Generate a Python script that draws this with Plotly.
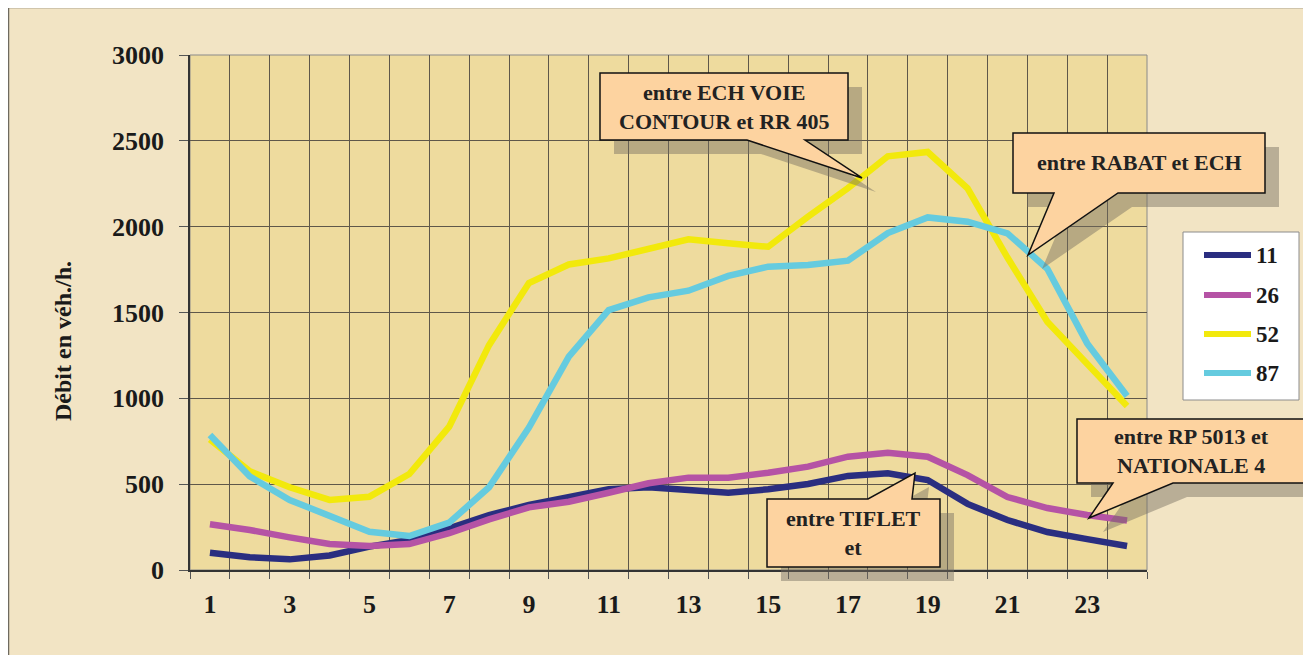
import plotly.graph_objects as go

hours = list(range(1, 25))
tick_hours = [1, 3, 5, 7, 9, 11, 13, 15, 17, 19, 21, 23]
series_names = ["11", "26", "52", "87"]
s11 = [101, 74, 62, 85, 136, 175, 243, 320, 379, 427, 470, 482, 462, 450, 470, 501, 548, 563, 524, 385, 291, 221, 180, 140]
s26 = [266, 233, 190, 151, 140, 151, 214, 295, 365, 398, 450, 505, 538, 538, 567, 602, 660, 683, 660, 553, 425, 361, 320, 288]
s52 = [761, 575, 482, 408, 427, 559, 835, 1310, 1672, 1780, 1815, 1868, 1926, 1903, 1883, 2058, 2225, 2410, 2435, 2223, 1820, 1446, 1204, 955]
s87 = [786, 545, 408, 311, 223, 198, 276, 482, 830, 1243, 1514, 1588, 1627, 1713, 1767, 1777, 1802, 1963, 2054, 2029, 1961, 1755, 1320, 1014]
series_values = [s11, s26, s52, s87]
colors = ["#2A2E80", "#B553A5", "#F2E90C", "#65CBDF"]
y_title = "Débit en véh./h."
callout_texts = [
    "entre ECH VOIE<br>CONTOUR et RR 405",
    "entre RABAT et ECH",
    "entre TIFLET<br>et",
    "entre RP 5013 et<br>NATIONALE 4",
]

OFF = 8  # page body margin
W, H = 1311, 655
L, R, T, B = 190, 1147, 55, 570  # plot area in screen pixels
FONT = "Liberation Serif, Times New Roman, serif"


def px(x):
    return (x - L) / (R - L)


def py(y):
    return (B - y) / (B - T)


def path(points):
    return "M" + " L".join(f"{px(x):.5f},{py(y):.5f}" for x, y in points) + " Z"


fig = go.Figure()
for name, vals, col in zip(series_names, series_values, colors):
    fig.add_trace(go.Scatter(x=hours, y=vals, mode="lines", name=name,
                             line=dict(color=col, width=6.5), showlegend=False))

shapes = []
annotations = []

# outer frame (left & top edges visible)
shapes.append(dict(type="rect", xref="paper", yref="paper", x0=px(8.5), x1=px(1340), y0=py(7.5), y1=py(700),
                   line=dict(color="#6E6A60", width=1.5), fillcolor="rgba(0,0,0,0)", layer="below"))
# plot border
shapes.append(dict(type="rect", xref="paper", yref="paper", x0=0, x1=1, y0=0, y1=1,
                   line=dict(color="#8A8A8A", width=1), fillcolor="rgba(0,0,0,0)", layer="below"))

callouts = [
    dict(pts=[(600, 73), (848, 73), (848, 140), (805, 140), (862, 178), (747, 140), (600, 140)],
         c=(724, 107)),
    dict(pts=[(1013, 133), (1265, 133), (1265, 193), (1118, 193), (1028, 255), (1054, 193), (1013, 193)],
         c=(1139, 163)),
    dict(pts=[(767, 499), (868, 499), (915, 473), (912, 499), (940, 499), (940, 567), (767, 567)],
         c=(853, 533)),
    dict(pts=[(1077, 419), (1305, 419), (1305, 483), (1173, 483), (1089, 518), (1113, 483), (1077, 483)],
         c=(1191, 451)),
]
for co in callouts:
    sh = [(x + 14, y + 14) for x, y in co["pts"]]
    shapes.append(dict(type="path", xref="paper", yref="paper", path=path(sh),
                       fillcolor="rgba(115,108,95,0.45)", line=dict(width=0), layer="above"))
for co, txt in zip(callouts, callout_texts):
    shapes.append(dict(type="path", xref="paper", yref="paper", path=path(co["pts"]),
                       fillcolor="#FDD3A0", line=dict(color="#111111", width=1.5), layer="above"))
    annotations.append(dict(xref="paper", yref="paper", x=px(co["c"][0]), y=py(co["c"][1]),
                            text=txt, showarrow=False, xanchor="center", yanchor="middle",
                            font=dict(family=FONT, size=22, color="#222222", weight="bold"),
                            align="center"))

# legend box
shapes.append(dict(type="rect", xref="paper", yref="paper", x0=px(1183), x1=px(1299), y0=py(400), y1=py(232),
                   fillcolor="#FFFFFF", line=dict(color="#8C8C8C", width=1), layer="above"))
leg_y = [255, 295, 334, 373]
for name, col, ly in zip(series_names, colors, leg_y):
    shapes.append(dict(type="line", xref="paper", yref="paper", x0=px(1204), x1=px(1251), y0=py(ly), y1=py(ly),
                       line=dict(color=col, width=6), layer="above"))
    annotations.append(dict(xref="paper", yref="paper", x=px(1254), y=py(ly), text=name, showarrow=False,
                            xanchor="left", yanchor="middle",
                            font=dict(family=FONT, size=23, color="#1A1A1A", weight="bold")))

# y axis title
annotations.append(dict(xref="paper", yref="paper", x=px(63), y=py(341), text=y_title, showarrow=False,
                        textangle=-90, xanchor="center", yanchor="middle",
                        font=dict(family=FONT, size=24, color="#1A1A1A", weight="bold")))

fig.update_layout(
    width=W, height=H, autosize=False,
    margin=dict(l=L - OFF, r=W - (R - OFF), t=T - OFF, b=H - (B - OFF), pad=0),
    paper_bgcolor="#F2E4C4",
    plot_bgcolor="#EEDB9E",
    font=dict(family=FONT, size=26, color="#1A1A1A", weight="bold"),
    shapes=shapes,
    annotations=annotations,
    showlegend=False,
    xaxis=dict(range=[0.5, 24.5], tickmode="array", tickvals=tick_hours, ticktext=[str(t) for t in tick_hours],
               showgrid=False, ticks="", showline=True, linecolor="#333333", linewidth=1.5,
               ticklabelstandoff=10, zeroline=False,
               tickfont=dict(family=FONT, size=26, color="#1A1A1A", weight="bold"),
               minor=dict(tick0=0.5, dtick=1, showgrid=True, gridcolor="#5E574A", gridwidth=1,
                          ticks="outside", ticklen=7, tickcolor="#555555")),
    yaxis=dict(range=[0, 3000], dtick=500, showgrid=True, gridcolor="#5E574A", gridwidth=1,
               ticks="outside", ticklen=9, tickcolor="#555555", showline=True, linecolor="#333333",
               linewidth=1.5, zeroline=False, ticklabelstandoff=10,
               tickfont=dict(family=FONT, size=26, color="#1A1A1A", weight="bold")),
)

fig.write_html("out.html")
